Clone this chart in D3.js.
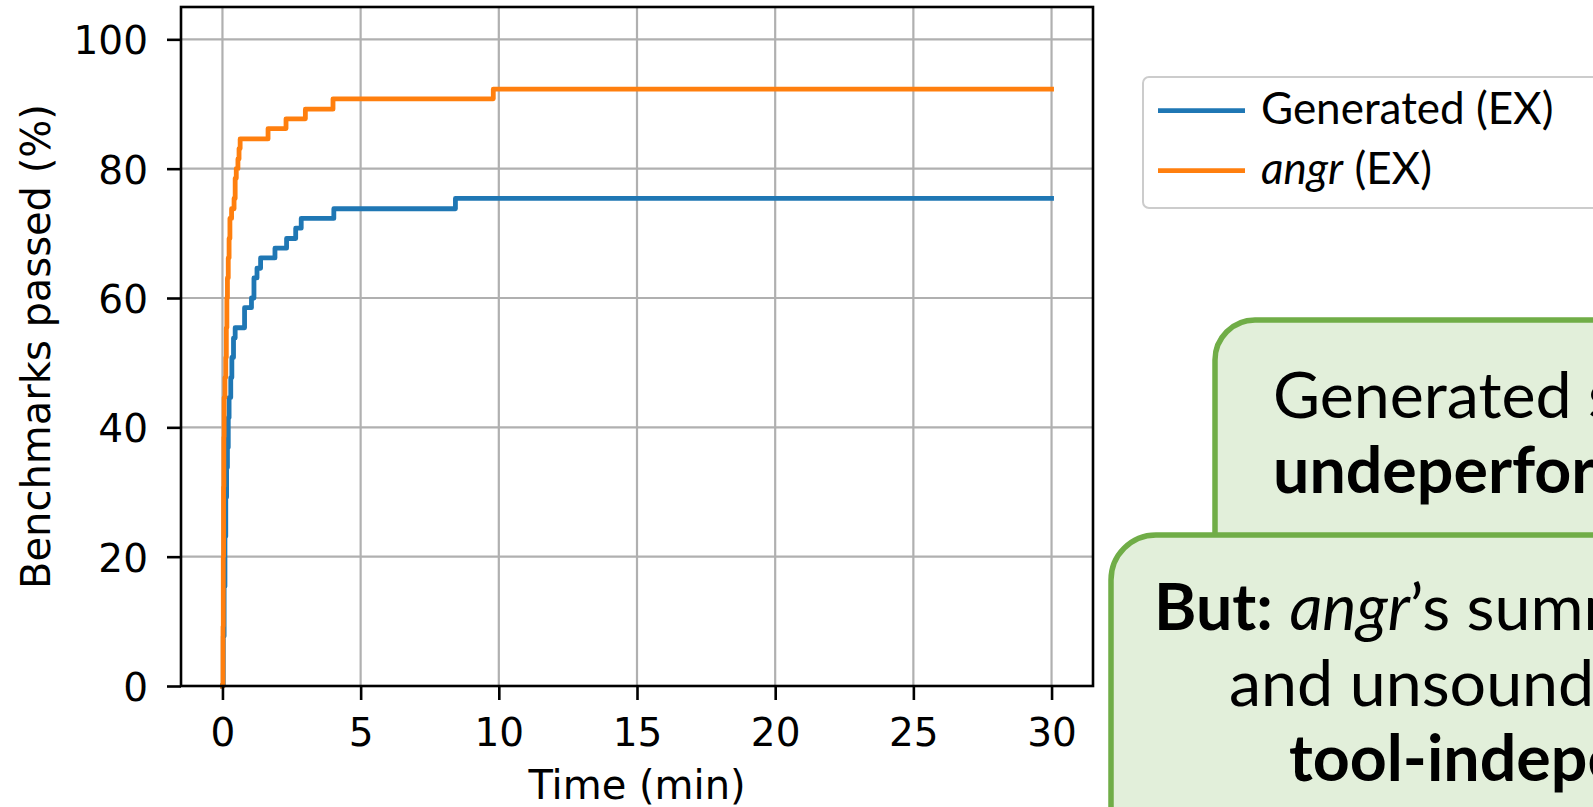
<!DOCTYPE html>
<html>
<head>
<meta charset="utf-8">
<script src="https://cdn.jsdelivr.net/npm/d3@7"></script>
<style>
  html, body { margin: 0; padding: 0; background: #fff; overflow: hidden; }
  svg { display: block; }
</style>
</head>
<body>
<svg width="1593" height="807"></svg>
<script>
// time (min) and benchmarks passed (%), step-after curves
const genTime = [0, 0.03, 0.06, 0.09, 0.12, 0.15, 0.18, 0.21, 0.24, 0.30, 0.34, 0.40, 0.46, 0.80, 1.05, 1.14, 1.25, 1.38, 1.90, 2.32, 2.65, 2.85, 4.03, 8.43, 30];
const genPassed = [0, 7.7, 15.4, 23.1, 29.2, 33.8, 36.9, 41.5, 44.6, 47.7, 50.8, 53.8, 55.4, 58.5, 60.0, 63.1, 64.6, 66.2, 67.7, 69.2, 70.8, 72.3, 73.8, 75.4, 75.4];

const angrTime = [0, 0.02, 0.03, 0.04, 0.05, 0.06, 0.09, 0.12, 0.14, 0.16, 0.18, 0.21, 0.24, 0.27, 0.33, 0.42, 0.46, 0.50, 0.56, 0.60, 0.64, 1.65, 2.30, 3.00, 4.00, 9.80, 30];
const angrPassed = [0, 9.2, 20.0, 30.8, 38.5, 44.6, 47.7, 50.8, 55.4, 60.0, 63.1, 66.2, 69.2, 72.3, 73.8, 75.4, 78.5, 80.0, 81.5, 83.1, 84.6, 86.2, 87.7, 89.2, 90.8, 92.3, 92.3];

const xTicks = [0, 5, 10, 15, 20, 25, 30];
const yTicks = [0, 20, 40, 60, 80, 100];

const seriesNames = ['Generated', 'angr'];
const seriesColors = ['#1f77b4', '#ff7f0e'];

const svg = d3.select('svg');
const axLeft = 181, axRight = 1093, axTop = 7, axBottom = 686;

const x = d3.scaleLinear().domain([-1.5, 31.5]).range([axLeft, axRight]);
const y = d3.scaleLinear().domain([0, 105]).range([axBottom, axTop]);

// grid
svg.append('g').selectAll('line')
    .data(xTicks)
    .enter().append('line')
    .attr('x1', d => x(d)).attr('x2', d => x(d))
    .attr('y1', axTop).attr('y2', axBottom)
    .attr('stroke', '#b0b0b0').attr('stroke-width', 2.2);
svg.append('g').selectAll('line')
    .data(yTicks)
    .enter().append('line')
    .attr('x1', axLeft).attr('x2', axRight)
    .attr('y1', d => y(d)).attr('y2', d => y(d))
    .attr('stroke', '#b0b0b0').attr('stroke-width', 2.2);

// lines
const series = [
    genTime.map((t, i) => [t, genPassed[i]]),
    angrTime.map((t, i) => [t, angrPassed[i]])
];
const line = d3.line()
    .x(d => x(d[0]))
    .y(d => y(d[1]))
    .curve(d3.curveStepAfter);

svg.append('g').selectAll('path')
    .data(series)
    .enter().append('path')
    .attr('d', line)
    .attr('fill', 'none')
    .attr('stroke', (d, i) => seriesColors[i])
    .attr('stroke-width', 4.8)
    .attr('stroke-linecap', 'square')
    .attr('stroke-linejoin', 'round');

// axes
const xAxis = d3.axisBottom(x).tickValues(xTicks).tickSize(14).tickPadding(18).tickFormat(d3.format('d'));
const yAxis = d3.axisLeft(y).tickValues(yTicks).tickSize(14).tickPadding(19).tickFormat(d3.format('d'));

const gx = svg.append('g').attr('transform', `translate(0,${axBottom})`).call(xAxis);
const gy = svg.append('g').attr('transform', `translate(${axLeft},0)`).call(yAxis);
[gx, gy].forEach(g => {
    g.select('.domain').remove();
    g.selectAll('.tick line').attr('stroke', '#000').attr('stroke-width', 2.6);
    g.selectAll('.tick text')
        .attr('fill', '#000')
        .style('font-family', 'DejaVu Sans')
        .style('font-size', '39px');
});
gy.selectAll('.tick text').attr('dy', '0.37em');

// frame
svg.append('rect')
    .attr('x', axLeft).attr('y', axTop)
    .attr('width', axRight - axLeft).attr('height', axBottom - axTop)
    .attr('fill', 'none').attr('stroke', '#000').attr('stroke-width', 2.6);

// axis labels
svg.append('text')
    .attr('x', (axLeft + axRight) / 2).attr('y', 799)
    .attr('text-anchor', 'middle')
    .style('font-family', 'DejaVu Sans').style('font-size', '40px')
    .text('Time (min)');
svg.append('text')
    .attr('transform', `translate(50,${(axTop + axBottom) / 2}) rotate(-90)`)
    .attr('text-anchor', 'middle')
    .style('font-family', 'DejaVu Sans').style('font-size', '40px')
    .text('Benchmarks passed (%)');

// legend
const legend = svg.append('g');
legend.append('rect')
    .attr('x', 1143).attr('y', 77).attr('width', 520).attr('height', 131)
    .attr('rx', 6)
    .attr('fill', '#fff').attr('stroke', '#cccccc').attr('stroke-width', 2);
const items = legend.selectAll('g.item')
    .data(seriesNames)
    .enter().append('g')
    .attr('class', 'item')
    .attr('transform', (d, i) => `translate(0,${110.7 + i * 60})`);
items.append('line')
    .attr('x1', 1158).attr('x2', 1245)
    .attr('stroke', (d, i) => seriesColors[i])
    .attr('stroke-width', 4.8);
const lt = items.append('text')
    .attr('x', 1261).attr('y', 13)
    .style('font-family', 'Lato').style('font-size', '44px');
lt.append('tspan')
    .style('font-style', (d, i) => i === 1 ? 'italic' : 'normal')
    .text(d => d);
lt.append('tspan').text(' (EX)');

// callout boxes
const boxFill = '#e2efda', boxStroke = '#70ad47';
svg.append('rect')
    .attr('x', 1215).attr('y', 320).attr('width', 700).attr('height', 420)
    .attr('rx', 40)
    .attr('fill', boxFill).attr('stroke', boxStroke).attr('stroke-width', 5.5);
const t1 = svg.append('text')
    .style('font-family', 'Lato').style('font-size', '64.5px');
t1.append('tspan').attr('x', 1273).attr('y', 418).text('Generated summaries');
t1.append('tspan').attr('x', 1273).attr('y', 493).style('font-weight', 'bold').text('undeperform');

svg.append('rect')
    .attr('x', 1111).attr('y', 535).attr('width', 800).attr('height', 420)
    .attr('rx', 45)
    .attr('fill', boxFill).attr('stroke', boxStroke).attr('stroke-width', 5.5);
const t2 = svg.append('text')
    .style('font-family', 'Lato').style('font-size', '64.5px');
const l1 = t2.append('tspan').attr('x', 1154).attr('y', 630);
l1.append('tspan').style('font-weight', 'bold').text('But:');
l1.append('tspan').text(' ');
l1.append('tspan').style('font-style', 'italic').text('angr');
l1.append('tspan').text('’s summaries');
t2.append('tspan').attr('x', 1229).attr('y', 706).text('and unsound');
t2.append('tspan').attr('x', 1289).attr('y', 781).style('font-weight', 'bold').text('tool-independent');
</script>
</body>
</html>
